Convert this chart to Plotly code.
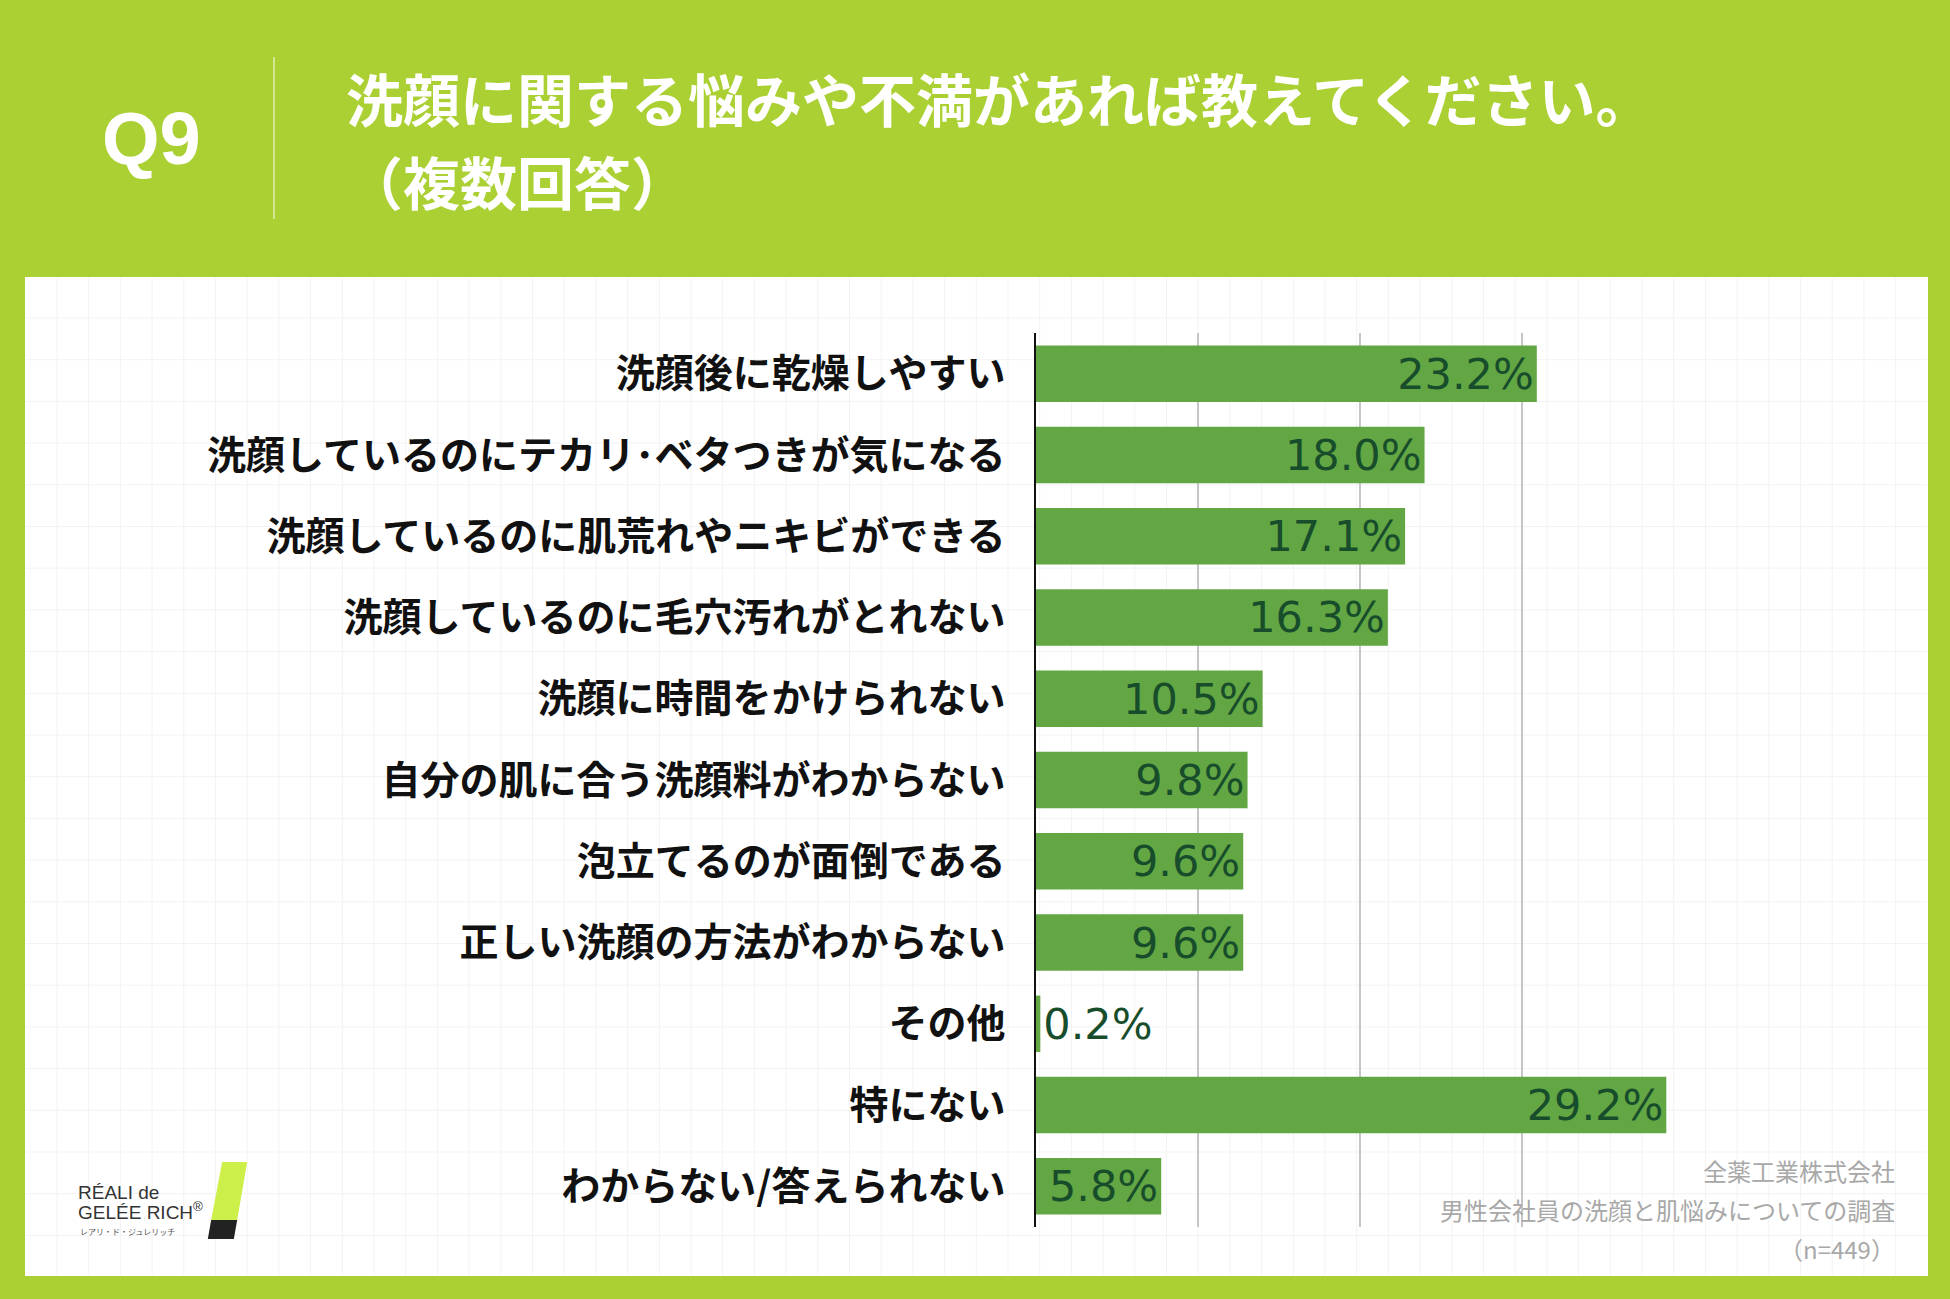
import plotly.graph_objects as go

W, H = 1950, 1299

categories = [
    "洗顔後に乾燥しやすい",
    "洗顔しているのにテカリ･ベタつきが気になる",
    "洗顔しているのに肌荒れやニキビができる",
    "洗顔しているのに毛穴汚れがとれない",
    "洗顔に時間をかけられない",
    "自分の肌に合う洗顔料がわからない",
    "泡立てるのが面倒である",
    "正しい洗顔の方法がわからない",
    "その他",
    "特にない",
    "わからない/答えられない",
]
values = [23.2, 18.0, 17.1, 16.3, 10.5, 9.8, 9.6, 9.6, 0.2, 29.2, 5.8]

question_no = "Q9"
title_lines = ["洗顔に関する悩みや不満があれば教えてください。", "（複数回答）"]
source_lines = ["全薬工業株式会社", "男性会社員の洗顔と肌悩みについての調査", "（n=449）"]

GREEN_BG = "#abd033"
BAR = "#62a744"
LABEL = "#184d2b"
JP = "Noto Sans CJK JP"


def px(x):
    return x / W


def py(y):
    return 1 - y / H


fig = go.Figure()

# small bars get their label outside, the rest inside at the bar end
positions = ["outside" if v < 3 else "inside" for v in values]

fig.add_trace(go.Bar(
    y=categories, x=values, orientation="h",
    marker=dict(color=BAR, line=dict(width=0)),
    texttemplate="%{x:.1f}%", textposition=positions,
    insidetextanchor="end",
    textfont=dict(family="DejaVu Sans", size=43, color=LABEL),
    cliponaxis=False, hoverinfo="skip",
))

shapes = []
# white panel
shapes.append(dict(type="rect", xref="paper", yref="paper",
                   x0=px(25), x1=px(1928), y0=py(1276), y1=py(277),
                   fillcolor="white", line=dict(width=0), layer="below"))
# faint background grid on the panel
gx = 57.0
while gx < 1925:
    shapes.append(dict(type="line", xref="paper", yref="paper",
                       x0=px(gx), x1=px(gx), y0=py(1275), y1=py(278),
                       line=dict(color="#f3f3f3", width=1), layer="below"))
    gx += 31.7
gy = 318.0
while gy < 1275:
    shapes.append(dict(type="line", xref="paper", yref="paper",
                       x0=px(26), x1=px(1927), y0=py(gy), y1=py(gy),
                       line=dict(color="#f3f3f3", width=1), layer="below"))
    gy += 41.7
# divider in header
shapes.append(dict(type="line", xref="paper", yref="paper",
                   x0=px(274), x1=px(274), y0=py(219), y1=py(57),
                   line=dict(color="#e2efb8", width=1.5)))
# logo stick
shapes.append(dict(type="path", xref="paper", yref="paper",
                   path=f"M {px(223)},{py(1163)} L {px(246)},{py(1163)} L {px(236)},{py(1221)} L {px(212)},{py(1221)} Z",
                   fillcolor="#cdef4a", line=dict(color="#cdef4a", width=2)))
shapes.append(dict(type="path", xref="paper", yref="paper",
                   path=f"M {px(212)},{py(1221)} L {px(236)},{py(1221)} L {px(233)},{py(1238)} L {px(209)},{py(1238)} Z",
                   fillcolor="#222222", line=dict(color="#222222", width=2)))

annotations = [
    dict(text=f"<b>{question_no}</b>", x=px(100), y=py(138), xanchor="left", yanchor="middle",
         font=dict(family="Liberation Sans", size=74, color="white")),
    dict(text=f"<b>{title_lines[0]}</b>", x=px(344), y=py(97), xanchor="left", yanchor="middle",
         font=dict(family=JP, size=57, color="white")),
    dict(text=f"<b>{title_lines[1]}</b>", x=px(344), y=py(180), xanchor="left", yanchor="middle",
         font=dict(family=JP, size=57, color="white")),
    dict(text="RÉALI de", x=px(76), y=py(1192), xanchor="left", yanchor="middle",
         font=dict(family="Liberation Sans Narrow, Liberation Sans", size=19, color="#333333")),
    dict(text="GELÉE RICH<sup>®</sup>", x=px(76), y=py(1211), xanchor="left", yanchor="middle",
         font=dict(family="Liberation Sans Narrow, Liberation Sans", size=19, color="#333333")),
    dict(text="レアリ・ド・ジュレリッチ", x=px(78), y=py(1231), xanchor="left", yanchor="middle",
         font=dict(family=JP, size=8, color="#555555")),
]
for i, line in enumerate(source_lines):
    annotations.append(dict(text=line, x=px(1897), y=py(1170 + 39 * i), xanchor="right", yanchor="middle",
                            font=dict(family=JP, size=24, color="#a8a8a8")))
for a in annotations:
    a.update(xref="paper", yref="paper", showarrow=False)

fig.update_layout(
    width=W, height=H,
    margin=dict(l=0, r=0, t=0, b=0),
    paper_bgcolor=GREEN_BG, plot_bgcolor="rgba(0,0,0,0)",
    showlegend=False, bargap=0.305,
    uniformtext=dict(mode=False),
    shapes=shapes, annotations=annotations,
    xaxis=dict(domain=[px(1036), px(1684)], range=[0, 30.02], dtick=7.5,
               showticklabels=False, showgrid=True, gridcolor="#c6c6c6", gridwidth=1.5,
               zeroline=False, showline=False, fixedrange=True),
    yaxis=dict(domain=[py(1227), py(333)], autorange="reversed", automargin=False,
               showline=True, linecolor="#111111", linewidth=1.5,
               ticks="", ticklabelstandoff=21, showgrid=False,
               tickfont=dict(family=JP, size=39, color="#111111", weight="bold"),
               fixedrange=True),
)

fig.write_html("out.html", config={"displayModeBar": False},
               post_script="document.body.style.margin='0';")
